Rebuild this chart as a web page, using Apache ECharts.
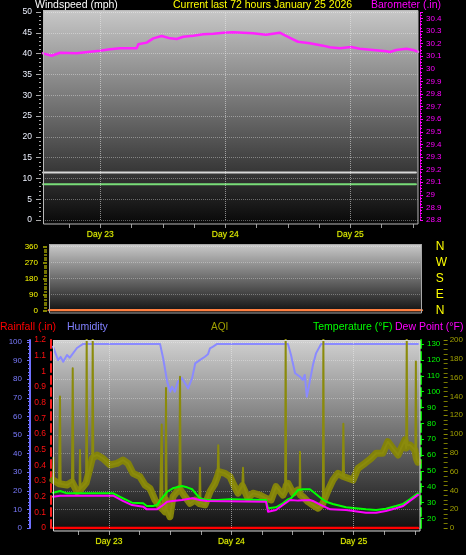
<!DOCTYPE html>
<html><head><meta charset="utf-8">
<script src="https://cdn.jsdelivr.net/npm/echarts@6/dist/echarts.min.js"></script>
<style>html,body{margin:0;padding:0;background:#000;}#c{width:466px;height:555px;}</style>
</head><body><div id="c"></div>
<script>
// ---- tick labels / categories ----
const dayHours = [0, 24, 48];                  // hours relative to Day 23 00:00
const dayLabels = ['Day 23', 'Day 24', 'Day 25'];
const hourTicks = [-6, 0, 6, 12, 18, 24, 30, 36, 42, 48, 54, 60];
const tempTicks = [20, 30, 40, 50, 60, 70, 80, 90, 100, 110, 120, 130];
const windDirLetters = {0: 'N', 90: 'E', 180: 'S', 270: 'W', 360: 'N'};

// ---- series values: [hour, value] ----
const barometer = [[-11,30.122],[-9.33,30.103],[-7.74,30.127],[-4.53,30.122],[-1.98,30.135],[-0.06,30.143],[1.86,30.154],[3.78,30.162],[6.99,30.162],[7.3,30.194],[8.91,30.207],[10.18,30.241],[11.79,30.26],[13.39,30.241],[14.67,30.236],[15.94,30.254],[17.86,30.262],[19.78,30.273],[21.7,30.278],[23.62,30.286],[25.48,30.289],[29.32,30.281],[31.82,30.27],[34.45,30.286],[35.08,30.273],[37,30.233],[37.96,30.214],[40.21,30.202],[42.76,30.183],[44.05,30.17],[45.97,30.162],[48.2,30.172],[49.81,30.159],[52.36,30.149],[54.92,30.138],[55.57,30.133],[56.84,30.149],[58.76,30.159],[60.04,30.149],[61,30.135]];
const windSpeed = [[-11,8.6],[60.6,8.6]];
const windGust = [[-11,11.4],[60.6,11.4]];
const windDir = [[-11,0],[61,0]];
const rainfall = [[-11,0],[60.6,0]];
const humidity = [[-11,97.5],[-10,90.3],[-9.5,92],[-9,89.4],[-8.25,93],[-7.7,91.6],[-6.3,96.8],[-5.1,99],[10,99],[10.6,91.4],[11.4,78.7],[12,73.3],[12.35,76],[12.9,73.3],[13.5,78.7],[14.3,80.6],[14.9,77.8],[15.5,75.1],[16.3,80.6],[16.9,88.5],[17.8,90.3],[18.8,92.1],[19.4,93.4],[19.8,96.6],[20.4,97.5],[21.2,99],[35.1,99],[35.7,93],[36.5,83.2],[37.5,81.3],[38,79.6],[38.4,82.3],[38.8,70.6],[39.2,76],[40,87.6],[40.6,93.9],[41.6,99],[60.6,99]];
const aqi = [[-11,51],[-10.9,75],[-10.8,50],[-9.8,47],[-9.63,140],[-9.5,47],[-8.25,45.7],[-7.27,49],[-7.13,170],[-7.0,48],[-6.29,38.6],[-5.8,40],[-5.7,83],[-5.6,42],[-5.31,42.5],[-4.5,48],[-4.39,205],[-4.3,50],[-3.74,64],[-3.3,74],[-3.21,205],[-3.1,76],[-2.37,77.7],[-1.19,74],[0.18,67],[1.56,68.8],[2.73,72.3],[3.71,68.8],[4.7,58.2],[6.07,54.6],[7.05,45.7],[8.03,42.2],[9.01,29.8],[10,22.7],[10.33,110],[10.5,20],[10.97,17.3],[11.1,30],[11.17,149],[11.3,20],[11.95,12],[12.54,33.3],[13.8,42],[13.92,161],[14.05,40],[14.9,33.3],[15.88,26.3],[16.86,29.8],[17.7,26],[17.84,64],[17.95,27],[18.82,24.5],[19.8,38.6],[20.78,47.5],[21.3,55],[21.43,88],[21.55,60],[21.76,61.7],[22.75,58.2],[23.73,54.6],[24.32,47.5],[25.3,37],[26.15,45],[26.28,64],[26.4,45],[27.26,31.6],[28.24,37],[29.6,35],[30.8,31.6],[31.8,29.8],[32.75,44],[34.1,35],[34.55,40],[34.65,205],[34.75,45],[35.1,47.5],[36.1,37],[37.07,40.4],[37.4,38],[37.46,81],[37.55,35],[38.05,33.3],[39.03,28],[40,24.5],[41,21],[41.95,26],[42.05,205],[42.15,28],[43,40.4],[43.93,51],[44.9,58.2],[45.85,55],[45.97,111],[46.1,54],[46.9,52.9],[47.86,51],[48.84,63.5],[50.2,68.8],[51.4,74],[52.4,79.5],[53.7,79.5],[54.7,91.8],[55.7,84.8],[56.7,77.7],[58.06,93.6],[58.3,85],[58.41,205],[58.5,88],[59.04,88.3],[60,83],[60.1,80],[60.2,177],[60.3,74],[60.6,70]];
const temperature = [[-11,36.2],[-9.6,37.3],[-8.25,35.8],[0.8,35.8],[2.7,32.7],[4.5,29.9],[6.7,29.5],[7.4,27.8],[8.6,27.8],[9.4,28.4],[10,31.2],[11.4,36.8],[12.5,39],[14.3,40.4],[15.3,39.6],[16.3,38.4],[17.8,32.7],[19.2,31.6],[21.2,31.6],[23.7,32],[30.8,31.6],[31.2,26.4],[32.75,27],[34.1,29.5],[35.1,32],[35.7,32.7],[37.1,37.9],[38,38.4],[39.4,38.4],[40.4,35.8],[41.6,32.7],[42.6,30.5],[43.9,29.1],[46.5,27],[50.4,25.7],[52.4,25.3],[54.3,26.1],[56.3,27.8],[57.7,29.1],[59,32],[60.6,35.8]];
const dewPoint = [[-11,33.7],[-9.6,34.3],[0.8,34.3],[2.7,31],[4.5,28.4],[6.7,27.4],[7.4,25.7],[9.4,25.7],[10.6,28.4],[11.4,30.5],[12.5,31],[14.3,31.6],[16.3,32.7],[17.8,31.6],[19.2,31],[30.8,30.5],[31.2,24.2],[32.75,25.3],[34.1,28.4],[35.5,31.6],[37.1,31.2],[39.4,31.6],[40,31],[41.6,28.4],[43.4,25.7],[46.5,25.3],[50.4,23.6],[52.4,23.6],[54.3,24.6],[56.3,26.4],[57.7,27.8],[59,31],[60.6,34.8]];

// the noisy AQI body: the same readings without the isolated spike peaks
const aqiBand = aqi.filter((p, i, a) =>
  !(i > 0 && i < a.length - 1 && p[1] - a[i - 1][1] > 15 && p[1] - a[i + 1][1] > 15));

const F = "'Liberation Sans', Arial, sans-serif";
const NF = "'Liberation Sans Narrow', 'Arial Narrow', 'Liberation Sans', Arial, sans-serif";

function grad(top, bottom) {
  return {type: 'linear', x: 0, y: 0, x2: 0, y2: 1,
    colorStops: [{offset: 0, color: top}, {offset: 1, color: bottom}]};
}
function xAx(gi, show, offset, margin) {
  return {type: 'value', gridIndex: gi, min: -11, max: 61, offset: offset,
    axisLine: {show: false, onZero: false}, splitLine: {show: false},
    axisTick: {show: show, customValues: hourTicks, length: 4, lineStyle: {color: '#9a9a9a'}},
    axisLabel: {show: show, customValues: dayHours, margin: margin, color: '#f0f000',
      fontSize: 8.5, fontFamily: F, textBorderColor: 'rgba(40,70,0,0.7)', textBorderWidth: 1,
      formatter: v => dayLabels[dayHours.indexOf(v)] || ''}};
}
function yAx(o) {
  o.type = 'value';
  o.axisLine = Object.assign({onZero: false}, o.axisLine || {});
  return o;
}
const dayMark = {silent: true, symbol: 'none', label: {show: false},
  lineStyle: {color: 'rgba(235,235,235,0.55)', type: 'dotted', width: 1},
  data: dayHours.map(h => ({xAxis: h}))};
const line = (name, data, xi, yi, color, w, extra) => Object.assign({
  name, type: 'line', data, xAxisIndex: xi, yAxisIndex: yi, symbol: 'none',
  lineStyle: {color, width: w, join: 'round', cap: 'round'}, itemStyle: {color}, silent: true}, extra || {});

const chart = echarts.init(document.getElementById('c'), null, {renderer: 'canvas'});
chart.setOption({
  backgroundColor: '#000',
  animation: false,
  grid: [
    {left: 43, right: 48, top: 12, bottom: 335},
    {left: 49, right: 44.3, top: 246.7, bottom: 244.7},
    {left: 53, right: 46, top: 340, bottom: 27}
  ],
  xAxis: [xAx(0, true, 4, 6.5), xAx(1, false, 0, 0), xAx(2, true, 3, 6)],
  yAxis: [
    yAx({gridIndex: 0, position: 'left', min: 0, max: 50, interval: 5, offset: 2,
      axisLine: {show: false},
      axisTick: {show: true, length: 5, lineStyle: {color: '#a8a8a8'}},
      minorTick: {show: true, splitNumber: 5, length: 2, lineStyle: {color: '#a8a8a8'}},
      axisLabel: {color: '#eef2ff', fontSize: 8.5, fontFamily: F, margin: 9},
      splitLine: {show: true, lineStyle: {color: 'rgba(255,255,255,0.35)', type: 'dotted'}}}),
    yAx({gridIndex: 0, position: 'right', min: 28.8, max: 30.45, interval: 0.1, offset: 2,
      axisLine: {show: true, lineStyle: {color: '#ff00ff', type: 'dotted', width: 1}},
      axisTick: {show: true, length: 3, lineStyle: {color: '#ff00ff'}},
      minorTick: {show: true, splitNumber: 4, length: 2, lineStyle: {color: '#ff00ff'}},
      axisLabel: {color: '#ff00ff', fontSize: 8, fontFamily: NF, margin: 6, showMaxLabel: false},
      splitLine: {show: false}}),
    yAx({gridIndex: 1, position: 'left', min: 0, max: 360, interval: 90, offset: 2,
      axisLine: {show: false},
      axisTick: {show: true, length: 4, lineStyle: {color: '#b0b000', width: 1.5}},
      minorTick: {show: true, splitNumber: 6, length: 3, lineStyle: {color: '#9a9a00', width: 1.5}},
      axisLabel: {color: '#ffff00', fontSize: 8, fontFamily: F, margin: 9},
      splitLine: {show: true, lineStyle: {color: 'rgba(255,255,255,0.3)', type: 'dotted'}}}),
    yAx({gridIndex: 1, position: 'right', min: 0, max: 360, interval: 90,
      axisLine: {show: false}, axisTick: {show: false}, splitLine: {show: false},
      axisLabel: {color: '#ffff00', fontSize: 12, fontFamily: F, margin: 14,
        formatter: v => windDirLetters[v] || ''}}),
    yAx({gridIndex: 2, position: 'left', min: 0, max: 101.1, interval: 10, offset: 23,
      axisLine: {show: true, lineStyle: {color: '#7070ff', width: 2}},
      axisTick: {show: true, length: 3, lineStyle: {color: '#7070ff'}},
      minorTick: {show: true, splitNumber: 5, length: 2, lineStyle: {color: '#7070ff'}},
      axisLabel: {color: '#7b7bff', fontSize: 8, fontFamily: F, margin: 8, showMaxLabel: false},
      splitLine: {show: true, lineStyle: {color: 'rgba(255,255,255,0.3)', type: 'dotted'}}}),
    yAx({gridIndex: 2, position: 'left', min: 0, max: 1.2, interval: 0.1, offset: 2,
      axisLine: {show: true, lineStyle: {color: '#ff2020', width: 2, type: 'dashed'}},
      axisTick: {show: false},
      axisLabel: {color: '#ff1010', fontSize: 8.5, fontFamily: F, margin: 5},
      splitLine: {show: false}}),
    yAx({gridIndex: 2, position: 'right', min: 13.9, max: 132.7, offset: 1,
      axisLine: {show: true, lineStyle: {color: '#00e000', width: 2, type: 'dashed'}},
      axisTick: {show: true, customValues: tempTicks, length: 3, lineStyle: {color: '#00ff00'}},
      axisLabel: {color: '#00ff00', fontSize: 8, fontFamily: F, margin: 6, customValues: tempTicks},
      splitLine: {show: false}}),
    yAx({gridIndex: 2, position: 'right', min: 0, max: 200, interval: 20, offset: 23.7,
      axisLine: {show: false},
      axisTick: {show: true, length: 4, lineStyle: {color: '#8c8c00'}},
      minorTick: {show: true, splitNumber: 4, length: 4, lineStyle: {color: '#7a7a00'}},
      axisLabel: {color: '#a0a000', fontSize: 8, fontFamily: F, margin: 6},
      splitLine: {show: false}})
  ],
  graphic: [
    {type: 'rect', z: -10, silent: true, shape: {x: 43, y: 10, width: 375, height: 214},
      style: {fill: grad('#c8c8c8', '#080808')}},
    {type: 'rect', z: -10, silent: true, shape: {x: 49, y: 244, width: 372.7, height: 69},
      style: {fill: grad('#cacaca', '#0e0e0e')}},
    {type: 'rect', z: -10, silent: true, shape: {x: 53, y: 340, width: 367, height: 191},
      style: {fill: grad('#d0d0d0', '#0e0e0e')}},
    {type: 'rect', z: 10, silent: true, shape: {x: 43.5, y: 10.5, width: 374.5, height: 213.5},
      style: {fill: null, stroke: '#b8b8b8', lineWidth: 1}},
    {type: 'rect', z: 10, silent: true, shape: {x: 49.5, y: 244.5, width: 372, height: 68.5},
      style: {fill: null, stroke: '#a8a8a8', lineWidth: 1}},
    {type: 'rect', z: 10, silent: true, shape: {x: 53.5, y: 340.5, width: 366.5, height: 190.5},
      style: {fill: null, stroke: '#d8d8d8', lineWidth: 1}},
    {type: 'text', x: 35, y: 5.5, silent: true, style: {text: 'Windspeed (mph)', fill: '#ffffff', font: '10.5px ' + F, verticalAlign: 'middle'}},
    {type: 'text', x: 173, y: 5.5, silent: true, style: {text: 'Current last 72 hours January 25 2026', fill: '#ffff00', font: '10.5px ' + F, verticalAlign: 'middle'}},
    {type: 'text', x: 371, y: 5.5, silent: true, style: {text: 'Barometer (.in)', fill: '#ff00ff', font: '10.5px ' + F, verticalAlign: 'middle'}},
    {type: 'text', x: 0, y: 327, silent: true, style: {text: 'Rainfall (.in)', fill: '#ff0000', font: '10.5px ' + F, verticalAlign: 'middle'}},
    {type: 'text', x: 67, y: 327, silent: true, style: {text: 'Humidity', fill: '#8080ff', font: '10.5px ' + F, verticalAlign: 'middle'}},
    {type: 'text', x: 211, y: 327, silent: true, style: {text: 'AQI', fill: '#a0a000', font: '10px ' + F, verticalAlign: 'middle'}},
    {type: 'text', x: 313, y: 327, silent: true, style: {text: 'Temperature (°F)', fill: '#00ff00', font: '10.5px ' + F, verticalAlign: 'middle'}},
    {type: 'text', x: 395, y: 327, silent: true, style: {text: 'Dew Point (°F)', fill: '#ff00ff', font: '10.5px ' + F, verticalAlign: 'middle'}}
  ],
  series: [
    line('Wind gust', windGust, 0, 0, '#d8d8d8', 2, {markLine: dayMark}),
    line('Windspeed', windSpeed, 0, 0, '#78dc78', 2),
    line('Barometer', barometer, 0, 1, '#ff22ff', 2.5),
    line('Wind direction', windDir, 1, 2, '#ff7f40', 2.5),
    line('Rainfall', rainfall, 2, 5, '#ff0000', 2.5),
    line('Humidity', humidity, 2, 4, '#8a8aff', 2, {markLine: dayMark}),
    line('AQI body', aqiBand, 2, 7, '#83830a', 7),
    line('AQI', aqi, 2, 7, '#8b8b0c', 2),
    line('Temperature', temperature, 2, 6, '#00ff00', 2),
    line('Dew Point', dewPoint, 2, 6, '#ff00ff', 2)
  ]
});
</script></body></html>
